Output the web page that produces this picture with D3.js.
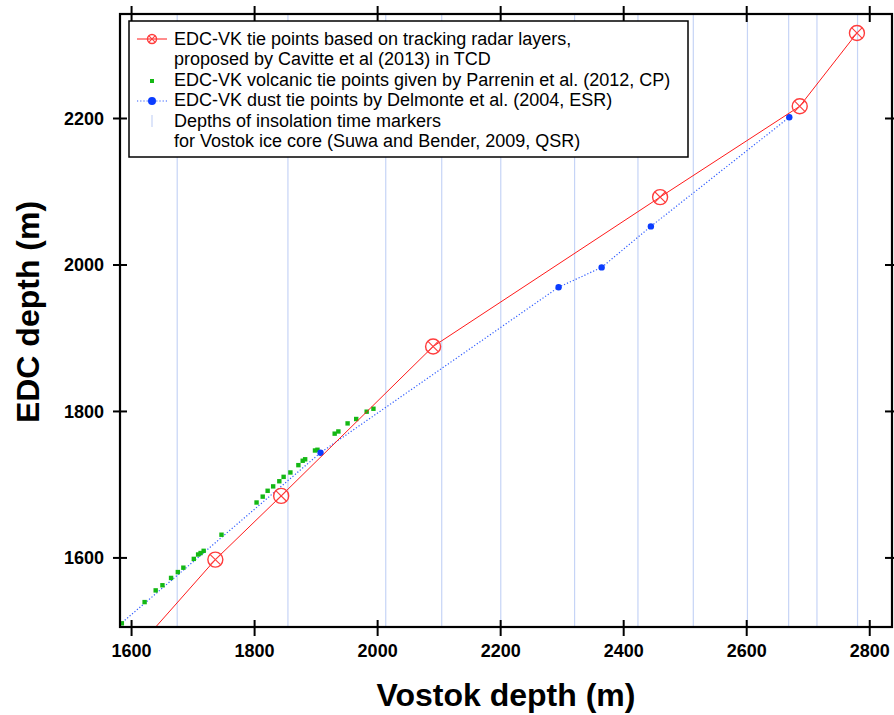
<!DOCTYPE html>
<html lang="en">
<head>
    <meta charset="UTF-8">
    <title>EDC vs Vostok depth tie points</title>
    <script src="https://d3js.org/d3.v7.min.js"></script>
    <style>
        body { margin: 0; background: #fff; }
        svg { display: block; }
        .tick-label { font-family: "Liberation Sans", Arial, sans-serif; font-weight: bold; font-size: 18px; fill: #000; }
        .axis-title { font-family: "Liberation Sans", Arial, sans-serif; font-weight: bold; font-size: 32px; fill: #000; }
        .legend-text { font-family: "Liberation Sans", Arial, sans-serif; font-size: 18px; fill: #000; }
    </style>
</head>
<body>
<svg id="chart" width="894" height="715"></svg>
<script>
    // Vostok depth / EDC depth pairs (m)
    const radarVostok = [1600, 1737, 1844, 2091, 2460, 2687, 2780];
    const radarEdc    = [1467, 1597, 1684, 1888, 2092, 2216, 2316];

    const volcanicVostok = [1585, 1622, 1640, 1651, 1665, 1676, 1685, 1702, 1709, 1713, 1718, 1747,
                            1804, 1814, 1822, 1831, 1841, 1848, 1859, 1872, 1879, 1883, 1899, 1903,
                            1931, 1937, 1952, 1966, 1983, 1994];
    const volcanicEdc    = [1510, 1539, 1555, 1562, 1572, 1580, 1586, 1598, 1604, 1606, 1609, 1631,
                            1675, 1683, 1691, 1697, 1704, 1710, 1716, 1726, 1732, 1734, 1746, 1747,
                            1769, 1772, 1783, 1789, 1799, 1803];

    const dustVostok = [1570, 1908, 2295, 2365, 2445, 2670];
    const dustEdc    = [1500, 1743, 1969, 1996, 2052, 2201];

    // Vostok depths of insolation time markers
    const insolationDepths = [1675, 1855, 2014, 2105, 2201, 2321, 2424, 2514, 2602, 2669, 2715, 2781];

    const xTicks = [1600, 1800, 2000, 2200, 2400, 2600, 2800];
    const yTicks = [1600, 1800, 2000, 2200];

    const legendLines = [
        "EDC-VK tie points based on tracking radar layers,",
        "proposed by Cavitte et al (2013) in TCD",
        "EDC-VK volcanic tie points given by Parrenin et al. (2012, CP)",
        "EDC-VK dust tie points by Delmonte et al. (2004, ESR)",
        "Depths of insolation time markers",
        "for Vostok ice core (Suwa and Bender, 2009, QSR)"
    ];

    const pLeft = 120, pRight = 892, pTop = 14, pBottom = 627;
    const svg = d3.select("#chart");

    const x = d3.scaleLinear().domain([1582, 2837]).range([pLeft, pRight]);
    const y = d3.scaleLinear().domain([1505, 2342]).range([pBottom, pTop]);

    const zip = (a, b) => a.map((v, i) => [v, b[i]]);
    const radar = zip(radarVostok, radarEdc);
    const volcanic = zip(volcanicVostok, volcanicEdc);
    const dust = zip(dustVostok, dustEdc);

    svg.append("clipPath").attr("id", "plot-clip")
        .append("rect").attr("x", pLeft).attr("y", pTop)
        .attr("width", pRight - pLeft).attr("height", pBottom - pTop);

    const plot = svg.append("g").attr("clip-path", "url(#plot-clip)");

    // insolation markers
    plot.selectAll(".ins").data(insolationDepths).enter().append("line")
        .attr("x1", d => x(d)).attr("x2", d => x(d))
        .attr("y1", pTop).attr("y2", pBottom)
        .attr("stroke", "#c6d4f6").attr("stroke-width", 1.2);

    const line = d3.line().x(d => x(d[0])).y(d => y(d[1]));

    // dust tie points
    plot.append("path").datum(dust).attr("d", line)
        .attr("fill", "none").attr("stroke", "#2f5cff")
        .attr("stroke-width", 1.2).attr("stroke-dasharray", "1.2,2");

    // volcanic tie points
    plot.selectAll(".vol").data(volcanic).enter().append("rect")
        .attr("x", d => x(d[0]) - 2.2).attr("y", d => y(d[1]) - 2.2)
        .attr("width", 4.4).attr("height", 4.4)
        .attr("fill", "#14b814");

    plot.selectAll(".dust").data(dust).enter().append("circle")
        .attr("cx", d => x(d[0])).attr("cy", d => y(d[1])).attr("r", 3.2)
        .attr("fill", "#0a3cff");

    // radar tie points
    plot.append("path").datum(radar).attr("d", line)
        .attr("fill", "none").attr("stroke", "#ff1a1a").attr("stroke-width", 1);

    function circleX(g, r) {
        const k = r * 0.68;
        g.append("circle").attr("r", r).attr("fill", "none")
            .attr("stroke", "#ff3c3c").attr("stroke-width", 1.4);
        g.append("path").attr("d", `M${-k},${-k}L${k},${k}M${k},${-k}L${-k},${k}`)
            .attr("stroke", "#ff3c3c").attr("stroke-width", 1.1);
    }

    plot.selectAll(".radar").data(radar).enter().append("g")
        .attr("transform", d => `translate(${x(d[0])},${y(d[1])})`)
        .each(function() { circleX(d3.select(this), 7.5); });

    // frame
    svg.append("rect").attr("x", pLeft).attr("y", pTop)
        .attr("width", pRight - pLeft).attr("height", pBottom - pTop)
        .attr("fill", "none").attr("stroke", "#000").attr("stroke-width", 2.2);

    // ticks crossing the frame
    const xb = svg.append("g").attr("transform", `translate(0,${pBottom})`)
        .call(d3.axisBottom(x).tickValues(xTicks).tickFormat(d3.format("d")).tickSize(9));
    const xt = svg.append("g").attr("transform", `translate(0,${pTop})`)
        .call(d3.axisTop(x).tickValues(xTicks).tickFormat("").tickSize(8));
    const yl = svg.append("g").attr("transform", `translate(${pLeft},0)`)
        .call(d3.axisLeft(y).tickValues(yTicks).tickFormat(d3.format("d")).tickSize(7));
    const yr = svg.append("g").attr("transform", `translate(${pRight},0)`)
        .call(d3.axisRight(y).tickValues(yTicks).tickFormat("").tickSize(7));

    [xb, xt, yl, yr].forEach(g => {
        g.select(".domain").remove();
        g.selectAll(".tick line").attr("stroke", "#000").attr("stroke-width", 2);
    });
    xb.selectAll(".tick line").attr("y1", -7);
    xt.selectAll(".tick line").attr("y1", 8);
    yl.selectAll(".tick line").attr("x1", 7);
    yr.selectAll(".tick line").attr("x1", -7);

    xb.selectAll(".tick text").attr("class", "tick-label").attr("y", 17).attr("dy", "0.71em");
    yl.selectAll(".tick text").attr("class", "tick-label").attr("x", -16).attr("dy", "0.35em");

    svg.append("text").attr("class", "axis-title")
        .attr("x", (pLeft + pRight) / 2).attr("y", 706).attr("text-anchor", "middle")
        .text("Vostok depth (m)");
    svg.append("text").attr("class", "axis-title")
        .attr("transform", `translate(39,312) rotate(-90)`)
        .attr("text-anchor", "middle")
        .text("EDC depth (m)");

    // legend
    const lg = svg.append("g").attr("transform", "translate(129,21)");
    lg.append("rect").attr("width", 559).attr("height", 136)
        .attr("fill", "#fff").attr("stroke", "#000").attr("stroke-width", 1.5);
    lg.selectAll(".lt").data(legendLines).enter().append("text")
        .attr("class", "legend-text")
        .attr("x", 45).attr("y", (d, i) => 24 + i * 20.4)
        .text(d => d);

    const sx = 23;
    lg.append("line").attr("x1", 8).attr("x2", 38).attr("y1", 18).attr("y2", 18)
        .attr("stroke", "#ff1a1a").attr("stroke-width", 1);
    circleX(lg.append("g").attr("transform", `translate(${sx},18)`), 4.5);

    lg.append("rect").attr("x", sx - 2).attr("y", 58).attr("width", 4).attr("height", 4)
        .attr("fill", "#14b814");

    lg.append("line").attr("x1", 8).attr("x2", 38).attr("y1", 80).attr("y2", 80)
        .attr("stroke", "#2f5cff").attr("stroke-width", 1.2).attr("stroke-dasharray", "1.2,2");
    lg.append("circle").attr("cx", sx).attr("cy", 80).attr("r", 4).attr("fill", "#0a3cff");

    lg.append("line").attr("x1", sx).attr("x2", sx).attr("y1", 94).attr("y2", 106)
        .attr("stroke", "#c6d4f6").attr("stroke-width", 1.2);
</script>
</body>
</html>
